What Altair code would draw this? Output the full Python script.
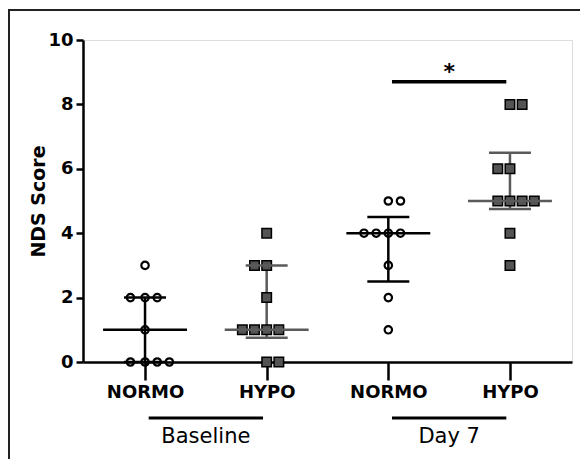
import altair as alt
import numpy as np
import pandas as pd

# ---- data ----
group_names = ["Baseline NORMO", "Baseline HYPO", "Day 7 NORMO", "Day 7 HYPO"]
group_pos = [1, 2, 3, 4]
group_kind = ["NORMO", "HYPO", "NORMO", "HYPO"]
tick_labels = ["NORMO", "HYPO", "NORMO", "HYPO"]

bn_vals = [0, 0, 0, 0, 1, 2, 2, 2, 3]
bn_slots = [-1.2, 0, 1, 2, 0, -1.2, 0, 1, 0]
bh_vals = [0, 0, 1, 1, 1, 1, 2, 3, 3, 4]
bh_slots = [0, 1, -2, -1, 0, 1, 0, -1, 0, 0]
d7n_vals = [1, 2, 3, 4, 4, 4, 4, 5, 5]
d7n_slots = [0, 0, 0, -2, -1, 0, 1, 0, 1]
d7h_vals = [3, 4, 5, 5, 5, 5, 6, 6, 8, 8]
d7h_slots = [0, 0, -1, 0, 1, 2, -1, 0, 0, 1]

period_names = ["Baseline", "Day 7"]
period_center = [1.5, 3.5]
period_start = [1.03, 3.03]
period_end = [1.97, 3.97]

sig_start, sig_end, sig_y = 3.03, 3.97, 8.7
sig_text = "*"

# ---- build tables ----
all_vals = [bn_vals, bh_vals, d7n_vals, d7h_vals]
all_slots = [bn_slots, bh_slots, d7n_slots, d7h_slots]
slot_w = 0.1
rows = []
for name, pos, kind, vals, slots in zip(group_names, group_pos, group_kind, all_vals, all_slots):
    for v, s in zip(vals, slots):
        rows.append({"group": name, "kind": kind, "x": pos + s * slot_w, "y": v})
pts = pd.DataFrame(rows)

summ = []
for name, pos, kind, vals in zip(group_names, group_pos, group_kind, all_vals):
    q1, med, q3 = np.quantile(vals, [0.25, 0.5, 0.75], method="weibull")
    summ.append({"group": name, "kind": kind, "pos": pos, "q1": q1, "med": med, "q3": q3,
                 "cl": pos - 0.1725, "cr": pos + 0.1725, "ml": pos - 0.345, "mr": pos + 0.345})
summ = pd.DataFrame(summ)

periods = pd.DataFrame({"name": period_names, "c": period_center,
                        "a": period_start, "b": period_end})
sig = pd.DataFrame({"a": [sig_start], "b": [sig_end], "y": [sig_y], "t": [sig_text],
                    "c": [(sig_start + sig_end) / 2]})

FONT = "DejaVu Sans"
label_expr = " : ".join(
    [f"datum.value == {p} ? '{t}'" for p, t in zip(group_pos, tick_labels)]) + " : ''"

xscale = alt.Scale(domain=[0.49, 4.51], nice=False, zero=False)
yscale = alt.Scale(domain=[0, 10], nice=False)

xaxis = alt.Axis(values=group_pos, labelExpr=label_expr, title=None, grid=False,
                 tickSize=18, tickWidth=2.5, domainWidth=2.5, domainColor="black",
                 tickColor="black", labelFont=FONT, labelFontSize=18, labelFontWeight="bold",
                 labelColor="black", labelPadding=3)
yaxis = alt.Axis(values=[0, 2, 4, 6, 8, 10], title="NDS Score", grid=False,
                 tickSize=7, tickWidth=2.5, domainWidth=2.5, domainColor="black",
                 tickColor="black", labelFont=FONT, labelFontSize=18, labelFontWeight="bold",
                 labelColor="black", labelPadding=3, titleFont=FONT, titleFontSize=19,
                 titleFontWeight="bold", titleColor="black", titlePadding=-1)

color_scale = alt.Scale(domain=["NORMO", "HYPO"], range=["#000000", "#5a5a5a"])

base_s = alt.Chart(summ)

whisk = base_s.mark_rule(strokeWidth=2.5).encode(
    x=alt.X("pos:Q", scale=xscale, axis=xaxis),
    y=alt.Y("q1:Q", scale=yscale, axis=yaxis),
    y2="q3:Q",
    color=alt.Color("kind:N", scale=color_scale, legend=None))
cap_lo = base_s.mark_rule(strokeWidth=2.5).encode(
    x=alt.X("cl:Q", scale=xscale), x2="cr:Q", y=alt.Y("q1:Q", scale=yscale),
    color=alt.Color("kind:N", scale=color_scale, legend=None))
cap_hi = base_s.mark_rule(strokeWidth=2.5).encode(
    x=alt.X("cl:Q", scale=xscale), x2="cr:Q", y=alt.Y("q3:Q", scale=yscale),
    color=alt.Color("kind:N", scale=color_scale, legend=None))
med = base_s.mark_rule(strokeWidth=2.5).encode(
    x=alt.X("ml:Q", scale=xscale), x2="mr:Q", y=alt.Y("med:Q", scale=yscale),
    color=alt.Color("kind:N", scale=color_scale, legend=None))

circles = alt.Chart(pts).transform_filter(alt.datum.kind == "NORMO").mark_point(
    shape="circle", filled=False, size=55, strokeWidth=2.2, color="black", opacity=1).encode(
    x=alt.X("x:Q", scale=xscale), y=alt.Y("y:Q", scale=yscale))
squares = alt.Chart(pts).transform_filter(alt.datum.kind == "HYPO").mark_point(
    shape="square", filled=True, size=90, fill="#545454", stroke="black", strokeWidth=1.5,
    opacity=1, fillOpacity=1).encode(
    x=alt.X("x:Q", scale=xscale), y=alt.Y("y:Q", scale=yscale))

sig_bar = alt.Chart(sig).mark_rule(strokeWidth=3.5, color="black").encode(
    x=alt.X("a:Q", scale=xscale), x2="b:Q", y=alt.Y("y:Q", scale=yscale))
sig_star = alt.Chart(sig).mark_text(font=FONT, fontSize=22, fontWeight="bold",
                                    color="black", baseline="alphabetic", dy=-3).encode(
    x=alt.X("c:Q", scale=xscale), y=alt.Y("y:Q", scale=yscale), text="t:N")

per_line = alt.Chart(periods).mark_rule(strokeWidth=3, color="black").encode(
    x=alt.X("a:Q", scale=xscale), x2="b:Q", y=alt.value(378))
per_text = alt.Chart(periods).mark_text(font=FONT, fontSize=21, color="black",
                                        baseline="middle").encode(
    x=alt.X("c:Q", scale=xscale), y=alt.value(397), text="name:N")

border_l = alt.Chart(periods.head(1)).mark_rule(strokeWidth=2, color="#222222").encode(
    x=alt.value(-74), y=alt.value(-30), y2=alt.value(430))
border_t = alt.Chart(periods.head(1)).mark_rule(strokeWidth=2, color="#222222").encode(
    x=alt.value(-75), x2=alt.value(520), y=alt.value(-30))

chart = alt.layer(
    whisk, squares, circles, cap_lo, cap_hi, med, sig_bar, sig_star,
    per_line, per_text, border_l, border_t
).properties(
    width=489, height=322,
    padding={"left": 75, "top": 32, "right": 8, "bottom": 97},
    autosize=alt.AutoSizeParams(type="none"),
).configure_view(stroke=None).configure(background="white")

chart.save("out.html", embed_options={"renderer": "svg", "actions": False})
